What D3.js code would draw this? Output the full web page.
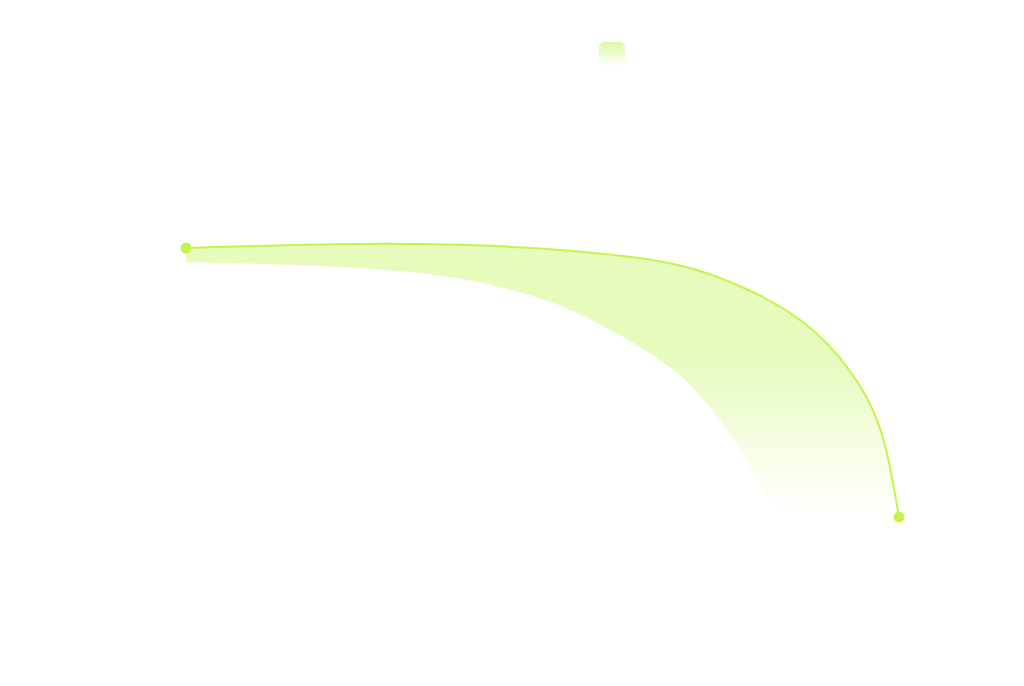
<!DOCTYPE html>
<html>
<head>
<meta charset="utf-8">
<script src="https://cdn.jsdelivr.net/npm/d3@7/dist/d3.min.js"></script>
<style>
  html, body { margin: 0; padding: 0; background: #ffffff; }
  svg { display: block; }
</style>
</head>
<body>
<svg id="chart" width="1024" height="686"></svg>
<script>
// ---- data ----
const xValues     = [0, 24.4, 45.4, 63.7, 71.1, 80.5, 88.5, 94.5, 97.3, 98.7, 100];
const lineValues  = [100, 102.0, 101.1, 96.8, 93.0, 83.2, 69.9, 50.3, 34.9, 20.1, 0];
const lowerX      = [0, 24.4, 38.4, 45.9, 50.6, 55.3, 59.9, 64.7, 69.3, 72.1, 76.7, 81.5, 82.6, 88.9, 100];
const lowerValues = [94.8, 93.3, 89.2, 84.4, 80.7, 75.5, 69.1, 61.7, 53.2, 45.4, 30.1, 8.2, 3.3, 1.1, 0];
const endpoints   = [0, 10];  // indices of marked points

// ---- layout ----
const svg = d3.select("#chart");
const x = d3.scaleLinear().domain([0, 100]).range([186, 899]);
const y = d3.scaleLinear().domain([0, 100]).range([517, 248]);

const defs = svg.append("defs");
const grad = defs.append("linearGradient")
  .attr("id", "areaGrad").attr("gradientUnits", "userSpaceOnUse")
  .attr("x1", 0).attr("y1", y(102)).attr("x2", 0).attr("y2", y(2));
grad.append("stop").attr("offset", "0%").attr("stop-color", "#e6fbbc").attr("stop-opacity", 1);
grad.append("stop").attr("offset", "42%").attr("stop-color", "#e6fbbc").attr("stop-opacity", 1);
grad.append("stop").attr("offset", "100%").attr("stop-color", "#e6fbbc").attr("stop-opacity", 0);

const legGrad = defs.append("linearGradient")
  .attr("id", "legGrad").attr("x1", 0).attr("y1", 0).attr("x2", 0).attr("y2", 1);
legGrad.append("stop").attr("offset", "0%").attr("stop-color", "#dcfaa6").attr("stop-opacity", 1);
legGrad.append("stop").attr("offset", "100%").attr("stop-color", "#dcfaa6").attr("stop-opacity", 0);

const upper = xValues.map((d, i) => ({ x: d, v: lineValues[i] }));
const lower = lowerX.map((d, i) => ({ x: d, v: lowerValues[i] }));

const curve = d3.curveBasis;
const areaUpper = d3.area()
  .x(d => x(d.x)).y0(y(0)).y1(d => y(d.v))
  .curve(curve);
const areaLower = d3.area()
  .x(d => x(d.x)).y0(y(0) + 4).y1(d => y(d.v))
  .curve(d3.curveBasis);
const line = d3.line()
  .x(d => x(d.x)).y(d => y(d.v))
  .curve(curve);

svg.append("path").datum(upper).attr("d", areaUpper).attr("fill", "url(#areaGrad)");
svg.append("path").datum(lower).attr("d", areaLower).attr("fill", "#ffffff");

svg.append("path").datum(upper).attr("d", line)
  .attr("fill", "none").attr("stroke", "#c3f44c").attr("stroke-width", 2);

svg.selectAll("circle.pt").data(endpoints.map(i => upper[i])).enter()
  .append("circle").attr("class", "pt")
  .attr("cx", d => x(d.x)).attr("cy", d => y(d.v)).attr("r", 5.5)
  .attr("fill", "#c3f44c");

// legend icon
svg.append("rect").attr("x", 599).attr("y", 42).attr("width", 26).attr("height", 24)
  .attr("rx", 5).attr("fill", "url(#legGrad)");
</script>
</body>
</html>
